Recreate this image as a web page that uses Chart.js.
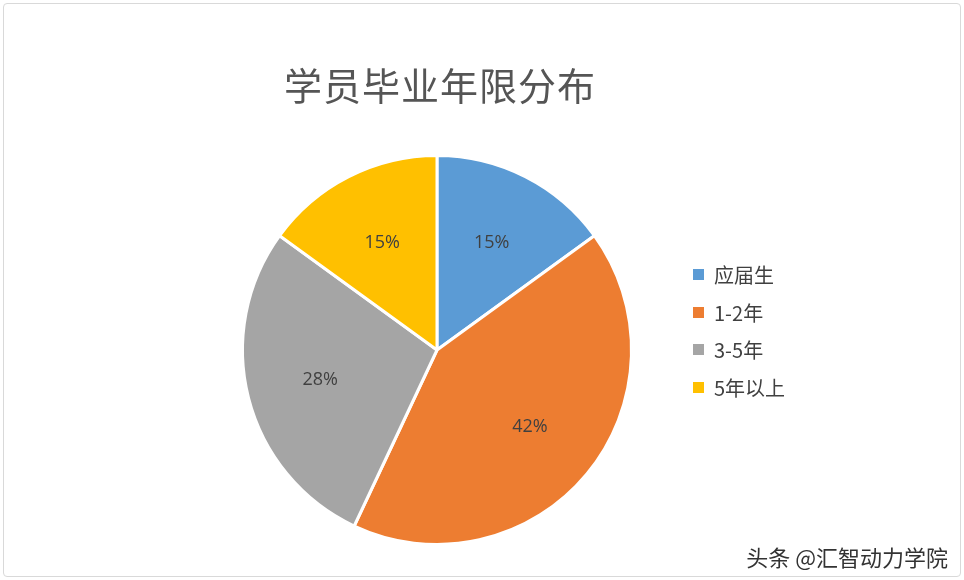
<!DOCTYPE html>
<html><head><meta charset="utf-8">
<script src="https://cdn.jsdelivr.net/npm/chart.js@4"></script>
<style>
body{margin:0;background:#fff;font-family:"Noto Sans CJK SC",sans-serif}
#wrap{position:relative;width:964px;height:580px;overflow:hidden}
#frame{position:absolute;left:3px;top:3px;width:956px;height:572px;border:1px solid #d9d9d9;border-radius:4px}
#title{position:absolute;left:0;width:880px;top:56px;text-align:center;font-size:38px;color:#555;letter-spacing:1px}
#legend{position:absolute;left:693px;top:256px;font-size:20px;color:#404040}
#legend div{height:37.5px;display:flex;align-items:center}
#legend span{display:inline-block;width:11px;height:11px;margin-right:10px}
#wm{position:absolute;right:16px;bottom:8px;font-size:22px;color:#333}
</style></head><body>
<div id="wrap"><div id="frame"></div>
<canvas id="c" width="964" height="580" style="position:absolute;left:0;top:0"></canvas>
<div id="title">学员毕业年限分布</div>
<div id="legend"></div>
<div id="wm">头条 @汇智动力学院</div>
</div>
<script>
const categories=["应届生","1-2年","3-5年","5年以上"];
const values=[15,42,28,15];
const colors=["#5B9BD5","#ED7D31","#A5A5A5","#FFC000"];
const lg=document.getElementById('legend');
categories.forEach((c,i)=>{lg.innerHTML+=`<div><span style="background:${colors[i]}"></span>${c}</div>`});
const labels={id:'lbl',afterDatasetsDraw(ch){const ctx=ch.ctx;const m=ch.getDatasetMeta(0);
ctx.save();ctx.font='18px "Open Sans",sans-serif';ctx.fillStyle='#404040';ctx.textAlign='center';ctx.textBaseline='middle';
m.data.forEach((a,i)=>{const ang=(a.startAngle+a.endAngle)/2;const r=a.outerRadius*0.62;
ctx.fillText(values[i]+'%',a.x+Math.cos(ang)*r,a.y+Math.sin(ang)*r);});ctx.restore();}};
new Chart(document.getElementById('c'),{type:'pie',
data:{labels:categories,datasets:[{data:values,backgroundColor:colors,borderColor:'#fff',borderWidth:3}]},
options:{responsive:false,animation:false,layout:{padding:{left:241,right:331,top:154,bottom:34}},
plugins:{legend:{display:false},tooltip:{enabled:false}}},plugins:[labels]});
</script></body></html>
